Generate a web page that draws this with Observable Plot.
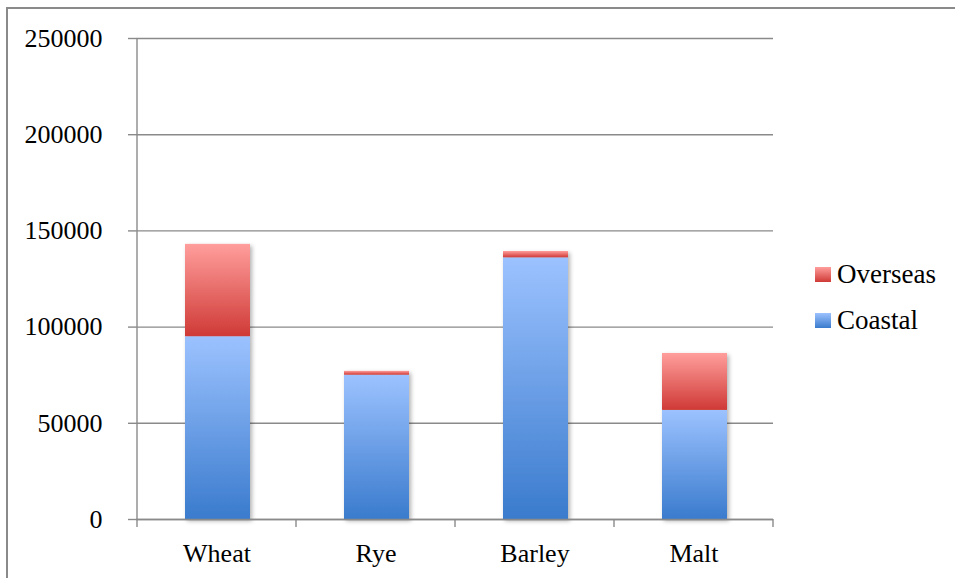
<!DOCTYPE html>
<html>
<head>
<meta charset="utf-8">
<script src="https://cdn.jsdelivr.net/npm/d3@7"></script>
<script src="https://cdn.jsdelivr.net/npm/@observablehq/plot@0.6"></script>
<style>
  html, body { margin: 0; padding: 0; background: #fff; overflow: hidden; }
  #wrap { position: relative; width: 955px; height: 578px; overflow: hidden; }
  #border { position: absolute; left: 6px; top: 7px; width: 1000px; height: 1000px;
            border-left: 2px solid #8a8a8a; border-top: 2px solid #8a8a8a; }
  #chart { position: absolute; left: 0; top: 0; }
  .legend { position: absolute; left: 815px; font-family: "Liberation Serif", serif;
            font-size: 27px; color: #000; }
  .legend .row { position: absolute; white-space: nowrap; height: 30px; }
  .legend .sw { position: absolute; left: 0; width: 16px; height: 15px; }
  .legend .lbl { position: absolute; left: 22px; line-height: 30px; top: -15px; }
</style>
</head>
<body>
<div id="wrap">
  <div id="border"></div>
  <div id="chart"></div>
  <div class="legend" id="legend"></div>
</div>
<script>
// Grain shipments by category, split into coastal and overseas trade
const categories = ["Wheat", "Rye", "Barley", "Malt"];
const coastal = [95000, 75000, 136000, 56700];
const overseas = [48000, 2000, 3300, 29600];
const yTicks = [0, 50000, 100000, 150000, 200000, 250000];
const seriesNames = ["Coastal", "Overseas"];

const gray = "#8a8a8a";
const fills = {Coastal: "url(#grad-coastal)", Overseas: "url(#grad-overseas)"};

// Coastal rows first so they stack at the bottom
const rows = [
  ...categories.map((c, i) => ({category: c, series: "Coastal", value: coastal[i]})),
  ...categories.map((c, i) => ({category: c, series: "Overseas", value: overseas[i]}))
];

// Axis frame: left axis line plus category boundary ticks under the baseline
function frameLines(index, scales) {
  const x = scales.x, y = scales.y;
  const step = x(categories[1]) - x(categories[0]);
  const g = d3.create("svg:g").attr("stroke", gray).attr("stroke-width", 1.4);
  const bounds = categories.map(c => x(c)).concat([x(categories[categories.length - 1]) + step]);
  g.append("line")
    .attr("x1", bounds[0]).attr("x2", bounds[0])
    .attr("y1", y(yTicks[yTicks.length - 1])).attr("y2", y(0) + 8);
  for (const b of bounds.slice(1)) {
    g.append("line").attr("x1", b).attr("x2", b).attr("y1", y(0)).attr("y2", y(0) + 8);
  }
  return g.node();
}

const chart = Plot.plot({
  width: 955,
  height: 578,
  marginTop: 38,
  marginBottom: 59,
  marginLeft: 136,
  marginRight: 182,
  style: {fontFamily: "Liberation Serif, serif", fontSize: "26px", color: "#000", background: "transparent"},
  x: {domain: categories, padding: 0, label: null},
  y: {domain: [0, 250000], label: null},
  color: {type: "identity"},
  marks: [
    Plot.gridY(yTicks, {stroke: gray, strokeOpacity: 1, strokeWidth: 1.4}),
    Plot.axisY(yTicks, {tickSize: 8, tickPadding: 26, stroke: gray, strokeWidth: 1.4,
      tickFormat: d3.format("d"), fill: "#000", fontSize: 26, label: null}),
    Plot.axisX({tickSize: 0, tickPadding: 24, fill: "#000", fontSize: 26, label: null}),
    Plot.barY(rows, Plot.stackY({
      x: "category", y: "value", z: "series",
      fill: d => fills[d.series],
      insetLeft: 48, insetRight: 46
    })),
    Plot.ruleY([0], {stroke: gray, strokeWidth: 1.4}),
    frameLines
  ]
});

// Gradients and soft shadow for the bars
const defs = d3.select(chart).insert("defs", ":first-child");
function gradient(id, top, bottom) {
  const lg = defs.append("linearGradient").attr("id", id)
    .attr("x1", 0).attr("y1", 0).attr("x2", 0).attr("y2", 1);
  lg.append("stop").attr("offset", "0%").attr("stop-color", top);
  lg.append("stop").attr("offset", "100%").attr("stop-color", bottom);
}
gradient("grad-coastal", "#9cc2ff", "#3a7bcd");
gradient("grad-overseas", "#ff9e9c", "#cf3a36");
const f = defs.append("filter").attr("id", "bar-shadow")
  .attr("x", "-20%").attr("y", "-20%").attr("width", "140%").attr("height", "140%");
f.append("feDropShadow").attr("dx", 2).attr("dy", 2).attr("stdDeviation", 2)
  .attr("flood-color", "#000").attr("flood-opacity", 0.3);
d3.select(chart).selectAll("g[aria-label='bar']").attr("filter", "url(#bar-shadow)");

document.getElementById("chart").appendChild(chart);

// Legend: Overseas listed above Coastal
const legend = d3.select("#legend");
const legendItems = [
  {name: seriesNames[1], top: 274, grad: "linear-gradient(#ff9e9c, #cf3a36)"},
  {name: seriesNames[0], top: 320, grad: "linear-gradient(#9cc2ff, #3a7bcd)"}
];
for (const item of legendItems) {
  const row = legend.append("div").attr("class", "row").style("top", item.top + "px");
  row.append("div").attr("class", "sw").style("top", "-7px").style("background", item.grad);
  row.append("div").attr("class", "lbl").text(item.name);
}
</script>
</body>
</html>
